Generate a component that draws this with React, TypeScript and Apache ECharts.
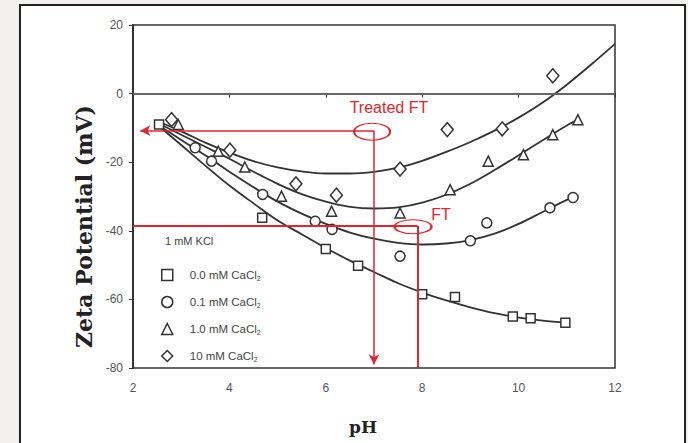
import React, { useEffect, useRef } from "react";
import * as echarts from "echarts";

// ---- measured data (pH, zeta potential mV) ----
const seriesNames = ["0.0 mM CaCl2", "0.1 mM CaCl2", "1.0 mM CaCl2", "10 mM CaCl2"];
const seriesSymbols = ["rect", "circle", "triangle", "diamond"];

const pH_00 = [2.54, 4.68, 6.0, 6.67, 8.0, 8.68, 9.88, 10.25, 10.97];
const zeta_00 = [-9, -36.2, -45.3, -50.2, -58.5, -59.3, -65, -65.5, -66.8];

const pH_01 = [3.29, 3.63, 4.69, 5.78, 6.13, 7.54, 9.0, 9.34, 10.65, 11.13];
const zeta_01 = [-15.8, -19.7, -29.4, -37.2, -39.6, -47.4, -42.9, -37.7, -33.3, -30.3];

const pH_10 = [2.94, 3.77, 4.32, 5.08, 6.12, 7.54, 8.58, 9.37, 10.1, 10.71, 11.23];
const zeta_10 = [-9, -16.8, -21.4, -29.9, -34.3, -34.8, -28, -19.7, -17.8, -12, -7.6];

const pH_100 = [2.8, 4.01, 5.38, 6.22, 7.54, 8.52, 9.66, 10.71];
const zeta_100 = [-7.6, -16.5, -26.3, -29.6, -22, -10.5, -10.3, 5.2];

// ---- fitted curves ----
const fitPH_00 = [2.5, 3, 3.5, 4, 4.5, 5, 5.5, 6, 6.5, 7, 7.5, 8, 8.5, 9, 9.5, 10, 10.5, 11];
const fitZeta_00 = [-9, -15, -21, -26.8, -32, -37, -41, -45, -48.7, -52, -55.3, -58, -60.3, -62.3, -64, -65.3, -66.2, -66.8];

const fitPH_01 = [2.5, 3, 3.5, 4, 4.5, 5, 5.5, 6, 6.5, 7, 7.5, 8, 8.5, 9, 9.5, 10, 10.5, 11, 11.13];
const fitZeta_01 = [-9, -13.5, -18, -22.8, -27.3, -31.5, -35, -38, -40.5, -42.3, -43.5, -44, -43.7, -42.7, -40.8, -38, -34.5, -31, -30.3];

const fitPH_10 = [2.5, 3, 3.5, 4, 4.5, 5, 5.5, 6, 6.5, 7, 7.5, 8, 8.5, 9, 9.5, 10, 10.5, 11, 11.23];
const fitZeta_10 = [-8.5, -12, -15.5, -19, -22.8, -26.3, -29.3, -31.5, -33, -33.5, -33.2, -31.8, -29.5, -26.3, -22.3, -18, -13.6, -9.3, -7.6];

const fitPH_100 = [2.5, 3, 3.5, 4, 4.5, 5, 5.5, 6, 6.5, 7, 7.5, 8, 8.5, 9, 9.5, 10, 10.5, 11, 11.5, 12];
const fitZeta_100 = [-8, -11, -14.3, -17.2, -19.7, -21.5, -22.7, -23.3, -23.3, -22.8, -21.6, -19.6, -17, -14.1, -10.8, -7, -2.6, 2.6, 8.4, 14.5];

// ---- axis ----
const xTicks = [2, 4, 6, 8, 10, 12];
const yTicks = [-80, -60, -40, -20, 0, 20];

// ---- annotations (data coordinates) ----
const treatedLabel = "Treated FT";
const ftLabel = "FT";
const treatedPH = 7.0;
const treatedZeta = -10.8;
const treatedArrowTipPH = 2.15;
const ftPH = 7.9;
const ftZeta = -38.5;

const zip = (xs: number[], ys: number[]) => xs.map((x, i) => [x, ys[i]]);

const RED = "#e0262f";
const INK = "#333";

export default function App() {
  const ref = useRef<HTMLDivElement>(null);
  useEffect(() => {
    if (!ref.current) return;
    const chart = echarts.init(ref.current, null, { renderer: "svg" });
    const pts = [zip(pH_00, zeta_00), zip(pH_01, zeta_01), zip(pH_10, zeta_10), zip(pH_100, zeta_100)];
    const fits = [zip(fitPH_00, fitZeta_00), zip(fitPH_01, fitZeta_01), zip(fitPH_10, fitZeta_10), zip(fitPH_100, fitZeta_100)];
    const symSizes: any[] = [9, 10, 10, [12, 14]];

    const redLine = { color: RED, width: 1.5, type: "solid" };
    const ellipsePath = "path://M0,1A1,1,0,1,1,2,1A1,1,0,1,1,0,1Z";

    const option: any = {
      animation: false,
      backgroundColor: "#f1f0ee",
      textStyle: { fontFamily: "Liberation Sans, Arial, sans-serif" },
      graphic: [
        {
          type: "rect",
          z: -10,
          silent: true,
          shape: { x: 20, y: 5, width: 665, height: 470 },
          style: { fill: "#fff", stroke: "#222", lineWidth: 2 },
        },
        {
          type: "text",
          left: 165,
          top: 235,
          style: { text: "1 mM KCl", fill: "#444", font: "11px 'Liberation Sans', Arial, sans-serif" },
        },
      ],
      grid: {
        left: 133,
        right: 73,
        top: 25,
        bottom: 75,
        show: true,
        borderColor: INK,
        borderWidth: 1.5,
        backgroundColor: "transparent",
      },
      legend: {
        data: seriesNames,
        orient: "vertical",
        left: 156,
        top: 263,
        itemWidth: 11,
        itemHeight: 11,
        itemGap: 13,
        itemStyle: { color: "#fff", borderColor: INK, borderWidth: 1.5 },
        formatter: (name: string) => `{a|${name.slice(0, -1)}}{s|${name.slice(-1)}}`,
        textStyle: {
          color: "#444",
          fontSize: 11,
          lineHeight: 14,
          padding: [0, 0, 0, 12],
          rich: {
            a: { fontSize: 11.5, color: "#444", fontFamily: "Liberation Sans" },
            s: { fontSize: 7, color: "#444", fontFamily: "Liberation Sans", padding: [6, 0, 0, 0] },
          },
        },
      },
      xAxis: {
        type: "value",
        min: xTicks[0],
        max: xTicks[xTicks.length - 1],
        interval: 2,
        name: "pH",
        nameLocation: "middle",
        nameGap: 50,
        nameTextStyle: {
          fontFamily: "DejaVu Serif",
          fontWeight: "bold",
          fontSize: 17,
          color: "#222",
          padding: [0, 22, 0, 0],
        },
        axisLine: { show: true, lineStyle: { color: INK, width: 2 } },
        axisTick: { show: true, length: 4, lineStyle: { color: INK } },
        axisLabel: { color: "#555", fontSize: 12, margin: 14 },
        splitLine: { show: false },
      },
      yAxis: {
        type: "value",
        min: yTicks[0],
        max: yTicks[yTicks.length - 1],
        interval: 20,
        name: "Zeta Potential (mV)",
        nameLocation: "middle",
        nameGap: 38,
        nameTextStyle: {
          fontFamily: "DejaVu Serif",
          fontWeight: "bold",
          fontSize: 22,
          color: "#222",
          padding: [0, 60, 0, 0],
        },
        axisLine: { show: true, lineStyle: { color: INK, width: 2 } },
        axisTick: { show: true, length: 4, lineStyle: { color: INK } },
        axisLabel: { color: "#555", fontSize: 12, margin: 10 },
        splitLine: { show: false },
      },
      series: [
        ...fits.map((d, i) => ({
          name: seriesNames[i] + " fit",
          type: "line",
          data: d,
          smooth: 0.35,
          showSymbol: false,
          z: 2,
          lineStyle: { color: INK, width: 1.8 },
          silent: true,
        })),
        ...pts.map((d, i) => ({
          name: seriesNames[i],
          type: "scatter",
          data: d,
          symbol: seriesSymbols[i],
          symbolSize: symSizes[i],
          z: 3,
          itemStyle: { color: "#fff", borderColor: INK, borderWidth: 1.5, opacity: 1 },
        })),
        {
          name: "annotations",
          type: "line",
          data: [],
          z: 5,
          markLine: {
            silent: true,
            symbol: ["none", "none"],
            label: { show: false },
            data: [
              [
                { coord: [xTicks[0], 0], lineStyle: { color: "#777", width: 1.5, type: "solid" } },
                { coord: [xTicks[xTicks.length - 1], 0], lineStyle: { color: "#777", width: 1.5, type: "solid" } },
              ],
              [
                { coord: [treatedPH, treatedZeta], symbol: "none", lineStyle: redLine },
                { coord: [treatedArrowTipPH, treatedZeta], symbol: "arrow", symbolSize: [8, 10], lineStyle: redLine },
              ],
              [
                { coord: [treatedPH, treatedZeta], symbol: "none", lineStyle: redLine },
                { coord: [treatedPH, yTicks[0] + 1], symbol: "arrow", symbolSize: [8, 10], lineStyle: redLine },
              ],
              [
                { coord: [xTicks[0], ftZeta], symbol: "none", lineStyle: { ...redLine, width: 2 } },
                { coord: [ftPH, ftZeta], symbol: "none", lineStyle: { ...redLine, width: 2 } },
              ],
              [
                { coord: [ftPH, ftZeta], symbol: "none", lineStyle: { ...redLine, width: 2 } },
                { coord: [ftPH, yTicks[0]], symbol: "none", lineStyle: { ...redLine, width: 2 } },
              ],
            ],
          },
          markPoint: {
            silent: true,
            data: [
              {
                coord: [6.96, -11.1],
                symbol: ellipsePath,
                symbolSize: [36, 17],
                itemStyle: { color: "rgba(0,0,0,0)", borderColor: RED, borderWidth: 1.5 },
                label: { show: false },
              },
              {
                coord: [7.81, -38.8],
                symbol: ellipsePath,
                symbolSize: [37, 14],
                itemStyle: { color: "rgba(0,0,0,0)", borderColor: RED, borderWidth: 1.5 },
                label: { show: false },
              },
              {
                coord: [7.31, -4.1],
                symbol: "rect",
                symbolSize: 1,
                itemStyle: { color: "rgba(0,0,0,0)" },
                label: { show: true, position: "inside", formatter: treatedLabel, color: RED, fontSize: 16, fontFamily: "Liberation Sans" },
              },
              {
                coord: [8.39, -35.3],
                symbol: "rect",
                symbolSize: 1,
                itemStyle: { color: "rgba(0,0,0,0)" },
                label: { show: true, position: "inside", formatter: ftLabel, color: RED, fontSize: 16, fontFamily: "Liberation Sans" },
              },
            ],
          },
        },
      ],
    };
    chart.setOption(option);
    return () => chart.dispose();
  }, []);
  return (
    <div style={{ position: "fixed", left: 0, top: 0, width: 688, height: 443 }}>
      <div ref={ref} style={{ width: 688, height: 443 }} />
    </div>
  );
}
